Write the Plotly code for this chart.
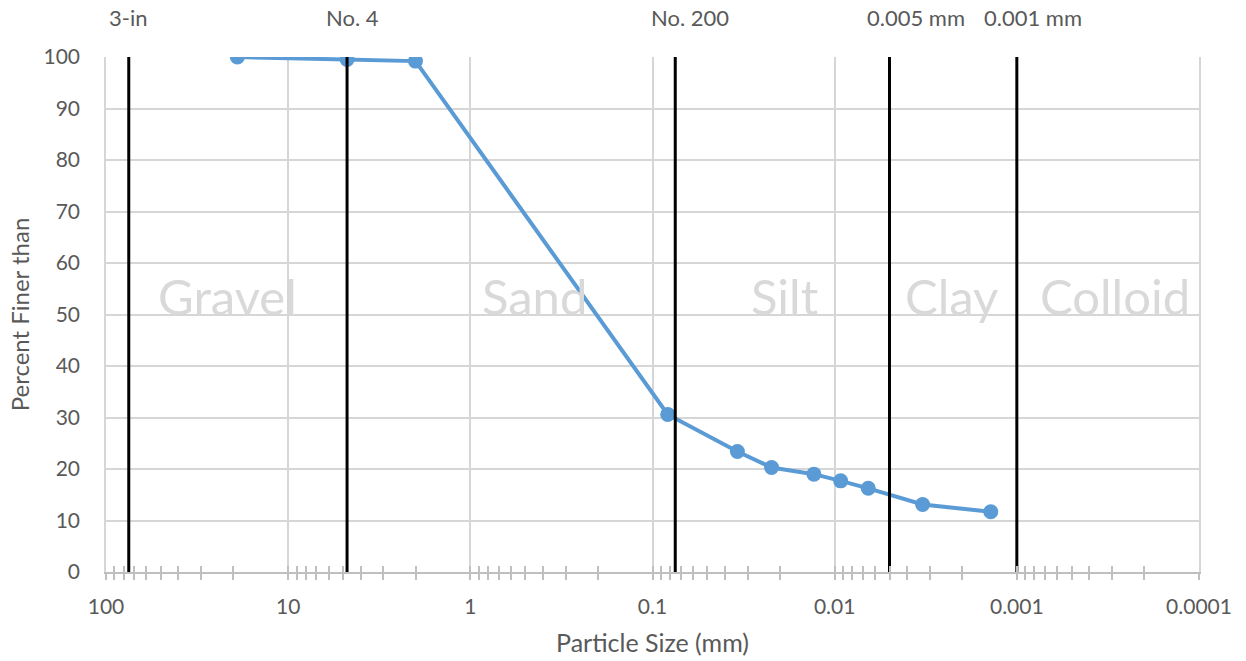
import math
import plotly.graph_objects as go

# ---- data ----
particle_size_mm = [19.0, 4.75, 2.0, 0.0825, 0.0342, 0.0222, 0.0130, 0.00927, 0.00654, 0.00329, 0.00139]
percent_finer = [100.0, 99.5, 99.2, 30.6, 23.4, 20.3, 19.0, 17.7, 16.25, 13.1, 11.7]

boundary_sizes_mm = [75.0, 4.75, 0.075, 0.005, 0.001]
boundary_labels = ["3-in", "No. 4", "No. 200", "0.005 mm", "0.001 mm"]
boundary_label_at_mm = [75.7, 4.41, 0.0622, 0.00358, 0.000815]

zone_names = ["Gravel", "Sand", "Silt", "Clay", "Colloid"]
zone_center_mm = [21.4, 0.442, 0.0188, 0.00227, 0.000289]

decade_ticks = [100, 10, 1, 0.1, 0.01, 0.001, 0.0001]
decade_labels = ["100", "10", "1", "0.1", "0.01", "0.001", "0.0001"]
y_ticks = list(range(0, 101, 10))

minor_ticks = [m * 10.0 ** e for e in range(-4, 2) for m in range(2, 10)]

FONT = "Lato"
GREY = "#595959"
GRID = "#d6d6d6"
AXIS = "#bfbfbf"

fig = go.Figure()

fig.add_trace(go.Scatter(
    x=particle_size_mm, y=percent_finer, mode="lines+markers",
    line=dict(color="#5b9bd5", width=4),
    marker=dict(color="#5b9bd5", size=15),
    xaxis="x", yaxis="y", showlegend=False, hoverinfo="x+y"))

for s in boundary_sizes_mm:
    fig.add_trace(go.Scatter(
        x=[s, s], y=[0, 100], mode="lines",
        line=dict(color="black", width=3),
        xaxis="x2", yaxis="y", showlegend=False, hoverinfo="skip"))

annotations = []
for lab, xm in zip(boundary_labels, boundary_label_at_mm):
    annotations.append(dict(
        x=math.log10(xm), y=1 + (57 - 18) / 515, xref="x", yref="paper",
        text=lab, showarrow=False, xanchor="center", yanchor="middle",
        font=dict(family=FONT, size=22, color=GREY)))
for name, xm in zip(zone_names, zone_center_mm):
    annotations.append(dict(
        x=math.log10(xm), y=53.6, xref="x", yref="y",
        text=name, showarrow=False, xanchor="center", yanchor="middle",
        font=dict(family=FONT, size=49, color="#d9d9d9")))

common_x = dict(
    type="log", range=[2, -4], autorange=False,
    tickmode="array", tickvals=decade_ticks,
)

fig.update_layout(
    width=1246, height=661,
    margin=dict(l=106, r=47, t=57, b=89, autoexpand=False),
    paper_bgcolor="white", plot_bgcolor="white",
    font=dict(family=FONT, color=GREY, size=21),
    showlegend=False,
    xaxis=dict(
        **common_x, ticktext=decade_labels,
        showgrid=True, gridcolor=GRID, gridwidth=1.5,
        showline=True, linecolor=AXIS, linewidth=1.5,
        ticks="outside", ticklen=6, tickwidth=1.5, tickcolor=AXIS,
        minor=dict(tickmode="array", tickvals=minor_ticks, ticks="outside",
                   ticklen=6, tickwidth=1.5, tickcolor=AXIS, showgrid=False),
        tickfont=dict(family=FONT, size=21, color=GREY),
        ticklabelstandoff=9,
        title=dict(text="Particle Size (mm)", font=dict(family=FONT, size=25, color=GREY), standoff=18),
        zeroline=False, automargin=False,
    ),
    xaxis2=dict(
        **common_x, overlaying="x", anchor="y", side="bottom",
        showgrid=False, showline=False, showticklabels=False,
        ticks="inside", ticklen=6, tickwidth=1.5, tickcolor=AXIS,
        minor=dict(tickmode="array", tickvals=minor_ticks, ticks="inside",
                   ticklen=6, tickwidth=1.5, tickcolor=AXIS, showgrid=False),
        zeroline=False, automargin=False,
    ),
    yaxis=dict(
        range=[0, 100], autorange=False, tickmode="array", tickvals=y_ticks,
        showgrid=True, gridcolor=GRID, gridwidth=1.5,
        showline=True, linecolor=GRID, linewidth=1.5, mirror=True,
        zeroline=False, ticks="",
        tickfont=dict(family=FONT, size=21, color=GREY),
        ticklabelstandoff=20,
        title=dict(text="Percent Finer than", font=dict(family=FONT, size=24, color=GREY), standoff=7),
        automargin=False,
    ),
    annotations=annotations,
)

fig.write_html("out.html", config={"displayModeBar": False},
               post_script="document.body.style.margin='0';")
